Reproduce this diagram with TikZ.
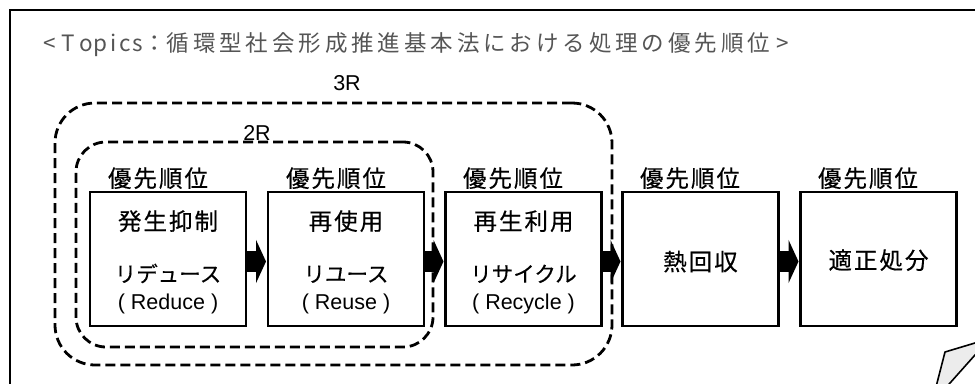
\documentclass[tikz,border=0pt]{standalone}
\usepackage{fontspec}
\setmainfont{Noto Sans CJK JP}
\newfontfamily\jpls[LetterSpace=8.5,FakeBold=0.4]{Noto Sans CJK JP}
\newfontfamily\jpkana[FakeBold=0.4]{Noto Sans CJK JP}
\newfontfamily\lat{Liberation Sans}
\newfontfamily\ttlfont{Noto Sans CJK JP}
\usetikzlibrary{arrows.meta}
\definecolor{titlegray}{RGB}{85,85,85}
\definecolor{curlgray}{RGB}{236,236,236}
\def\spreadcjk#1{\ifx#1\relax\else\makebox[26.4bp]{#1}\expandafter\spreadcjk\fi}
\newcommand\cellw[2]{\makebox[#1bp]{#2}}
\begin{document}
\begin{tikzpicture}[x=1bp,y=-1bp,
  every node/.style={inner sep=0pt, outer sep=0pt},
  stagebox/.style={draw, line width=2.4bp, minimum width=156bp, minimum height=134bp, fill=white},
  txt/.style={font=\fontsize{23.5bp}{28bp}\selectfont\jpls, anchor=base},
  kana/.style={font=\fontsize{21.5bp}{26bp}\selectfont\jpkana, anchor=base},
  latn/.style={font=\fontsize{21.5bp}{26bp}\selectfont\lat, anchor=base},
  prio/.style={font=\fontsize{23.5bp}{28bp}\selectfont\jpls, anchor=base west},
  grouplabel/.style={font=\fontsize{21.5bp}{25bp}\selectfont\lat, anchor=base},
  groupbox/.style={draw, line width=2.8bp, dash pattern=on 10bp off 5bp, rounded corners=#1},
  blockarrow/.style={line width=21bp, -{Triangle[length=10bp,width=43bp]}, shorten <=1.2bp, shorten >=2bp},
  frameline/.style={line width=2bp},
]
\useasboundingbox (0,0) rectangle (975,383);
\clip (0,0) rectangle (975,383);

% outer frame
\draw[frameline] (10,400) -- (10,10) -- (990,10);

% title
\node[anchor=base west, text=titlegray, font=\fontsize{22.5bp}{27bp}\selectfont\ttlfont] (title) at (41,51.5)
  {\cellw{18}{<}\cellw{19}{T}\cellw{15.75}{o}\cellw{13.5}{p}\cellw{12}{i}\cellw{12}{c}\cellw{12.5}{s}\cellw{21.05}{：}\spreadcjk 循環型社会形成推進基本法における処理の優先順位\relax\cellw{22}{>}};

% group boxes
\node[groupbox=40bp, minimum width=557bp, minimum height=262bp] (g3) at (333.5,234) {};
\node[groupbox=30bp, minimum width=357bp, minimum height=205bp] (g2) at (254.5,244.5) {};
\node[grouplabel] (g3l) at (347,90) {3R};
\node[grouplabel] (g2l) at (257,140) {2R};

% stage boxes
\node[stagebox] (b1) at (168,259) {};
\node[stagebox] (b2) at (346,259) {};
\node[stagebox] (b3) at (523.5,259) {};
\node[stagebox] (b4) at (700.5,259) {};
\node[stagebox] (b5) at (878.5,259) {};

% priority labels
\node[prio] (p1) at (108,187) {優先順位};
\node[prio] (p2) at (286,187) {優先順位};
\node[prio] (p3) at (463,187) {優先順位};
\node[prio] (p4) at (640,187) {優先順位};
\node[prio] (p5) at (818,187) {優先順位};

% box texts
\node[txt] (t1a) at (168,230) {発生抑制};
\node[kana] (t1b) at (168,282) {リデュース};
\node[latn] (t1c) at (168,309) {(\hspace{6bp}Reduce\hspace{6bp})};

\node[txt] (t2a) at (346,230) {再使用};
\node[kana] (t2b) at (346,282) {リユース};
\node[latn] (t2c) at (346,309) {(\hspace{6bp}Reuse\hspace{6bp})};

\node[txt] (t3a) at (523.5,230) {再生利用};
\node[kana] (t3b) at (523.5,282) {リサイクル};
\node[latn] (t3c) at (523.5,309) {(\hspace{6bp}Recycle\hspace{6bp})};

\node[txt] (t4) at (700.5,270.5) {熱回収};
\node[txt] (t5) at (878.5,269) {適正処分};

% arrows
\draw[blockarrow] ([yshift=-2.5bp]b1.east) -- ([yshift=-2.5bp]b2.west);
\draw[blockarrow] ([yshift=-2.5bp]b2.east) -- ([yshift=-2.5bp]b3.west);
\draw[blockarrow] ([yshift=-2.5bp]b3.east) -- ([yshift=-2.5bp]b4.west);
\draw[blockarrow] ([yshift=-2.5bp]b4.east) -- ([yshift=-2.5bp]b5.west);

% page curl
\filldraw[fill=curlgray, draw=black, line width=1.6bp, line join=miter]
  (934.7,392) -- (945,352) -- (989.6,338.6) -- (942,392) -- cycle;
\end{tikzpicture}
\end{document}
